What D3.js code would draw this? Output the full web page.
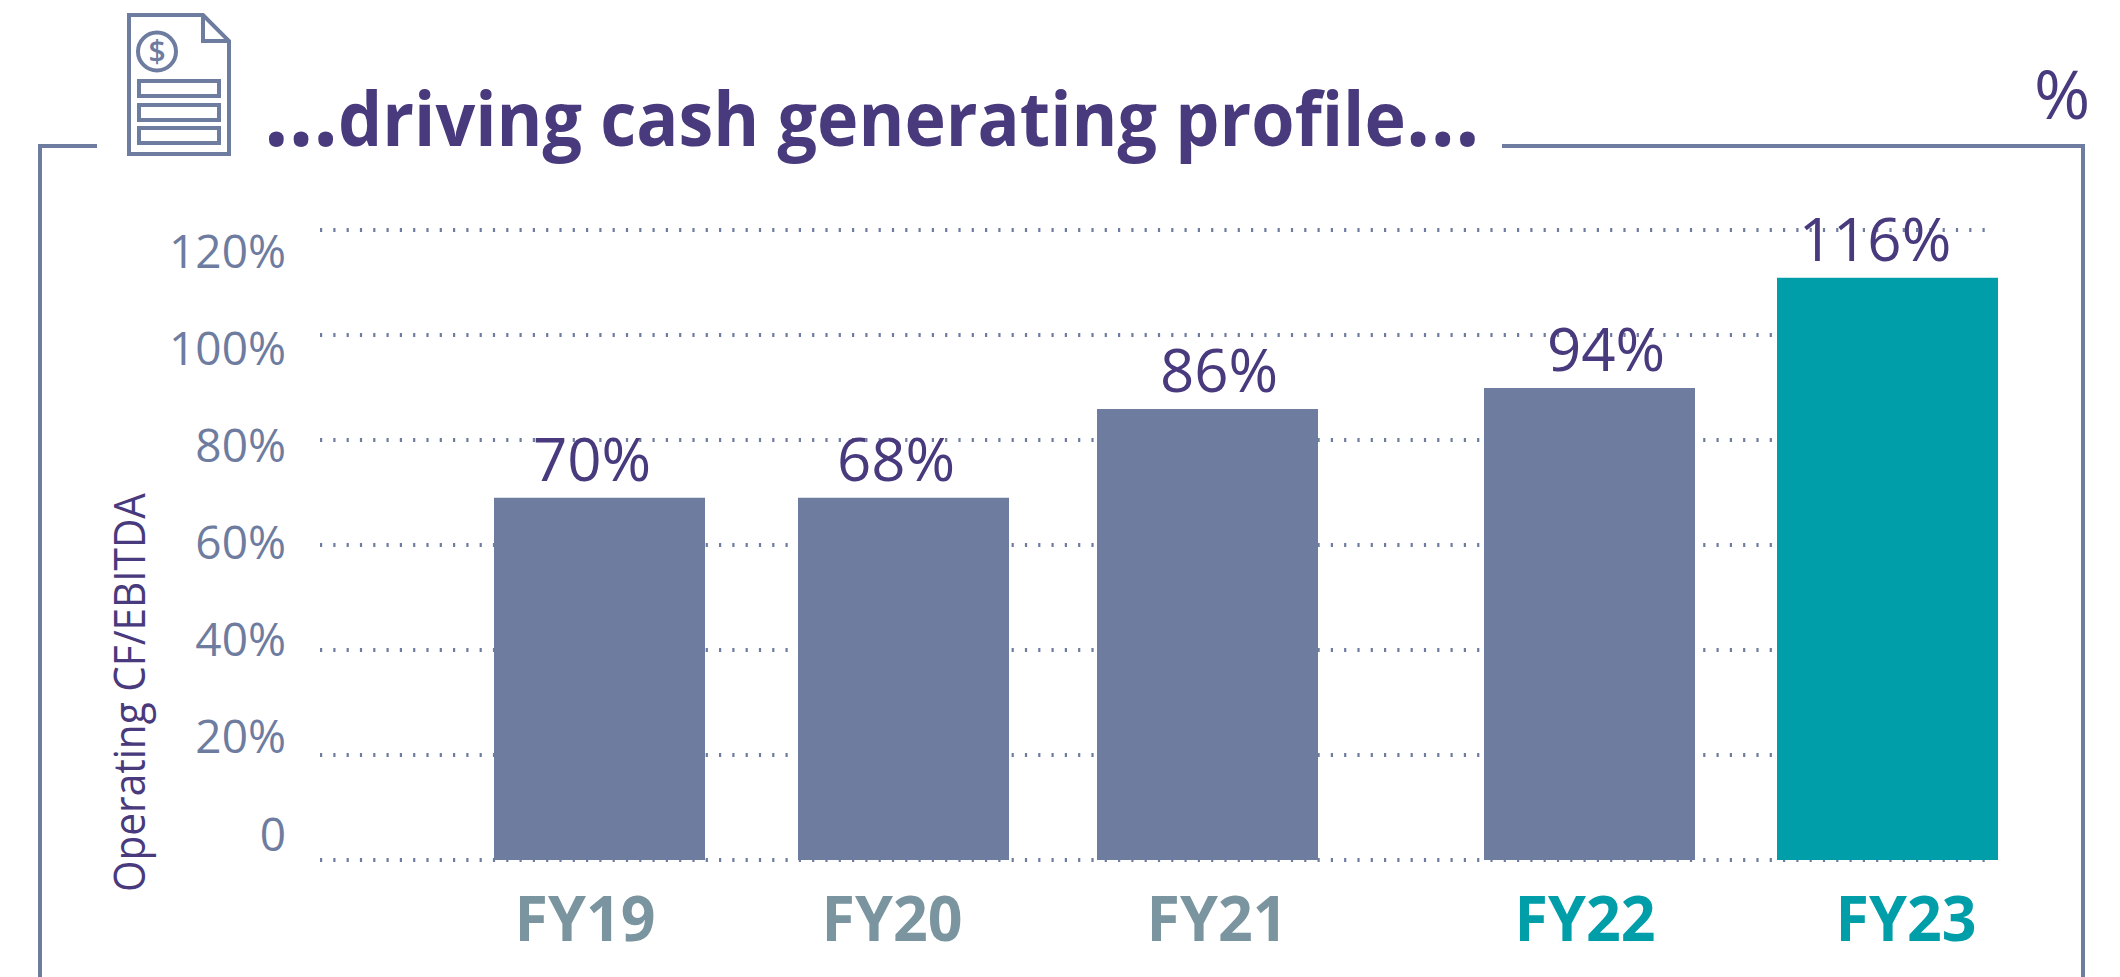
<!DOCTYPE html>
<html><head><meta charset="utf-8">
<script src="https://cdn.jsdelivr.net/npm/d3@7/dist/d3.min.js"></script>
<style>html,body{margin:0;padding:0;background:#fff}svg{display:block}text{font-family:"Open Sans",sans-serif}</style>
</head><body><svg id="c" width="2120" height="977"></svg>
<script>
const categories = ["FY19","FY20","FY21","FY22","FY23"];
const barValues = [69,69,85.9,89.9,110.9];
const valueLabels = ["70%","68%","86%","94%","116%"];
const yTicks = [0,20,40,60,80,100,120];
const yTickLabels = ["0","20%","40%","60%","80%","100%","120%"];

const INK="#483a7d", SLATE="#6e7ca0", TEAL="#009ea9", GREY="#7a959f";
const barColors=[SLATE,SLATE,SLATE,SLATE,TEAL];
const catColors=[GREY,GREY,GREY,TEAL,TEAL];
// layout
const barLeft=[494,798,1097,1484,1777], barRight=[705,1009,1318,1695,1998];
const catCenter=[585,892,1217,1585,1906], valCenter=[592,896,1219,1606,1875];
const catWidth=141;

const svg=d3.select("#c");
const y=d3.scaleLinear().domain([0,120]).range([860,230]);
const yLabel=d3.scaleLinear().domain([0,120]).range([850,267]);
const xL=d3.scaleOrdinal().domain(categories).range(barLeft);
const xR=d3.scaleOrdinal().domain(categories).range(barRight);
const xCat=d3.scaleOrdinal().domain(categories).range(catCenter);
const xVal=d3.scaleOrdinal().domain(categories).range(valCenter);

// frame
svg.append("path").attr("d","M97 146H40V977M1502 146H2083V977").attr("fill","none").attr("stroke",SLATE).attr("stroke-width",4);

// icon
const ic=svg.append("g").attr("fill","none").attr("stroke",SLATE).attr("stroke-width",4);
ic.append("path").attr("d","M129 15H203L229 41V154H129Z");
ic.append("path").attr("d","M203 15V41H229");
ic.append("ellipse").attr("cx",157).attr("cy",51.5).attr("rx",19).attr("ry",19);
[[81,96],[105,120],[128,143]].forEach(r=>ic.append("rect").attr("x",139).attr("y",r[0]).attr("width",80).attr("height",r[1]-r[0]));
svg.append("text").text("$").attr("x",157).attr("y",62).attr("text-anchor","middle").attr("font-size",30).attr("font-weight",600).attr("fill",SLATE);

// grid
const grid=svg.append("g");
grid.selectAll("line").data(yTicks).join("line")
  .attr("x1",320).attr("x2",1993).attr("y1",d=>y(d)).attr("y2",d=>y(d))
  .attr("stroke",SLATE).attr("stroke-width",4).attr("stroke-dasharray","2.2 11.1");

// bars
svg.append("g").selectAll("rect").data(categories).join("rect")
  .attr("x",d=>xL(d)).attr("width",d=>xR(d)-xL(d))
  .attr("y",(d,i)=>y(barValues[i])).attr("height",(d,i)=>y(0)-y(barValues[i]))
  .attr("fill",(d,i)=>barColors[i]);

function fit(sel,len){return sel.attr("textLength",len).attr("lengthAdjust","spacingAndGlyphs");}

// y tick labels through an axis
const ax=svg.append("g").attr("transform","translate(286,0)")
  .call(d3.axisLeft(yLabel).tickValues(yTicks).tickSize(0).tickPadding(0).tickFormat((d,i)=>yTickLabels[i]));
ax.select(".domain").remove();
ax.selectAll("text").attr("dy",0).attr("font-size",46).attr("font-weight",400).attr("fill",SLATE).style("font-family",'"Open Sans",sans-serif');

// y title
fit(svg.append("text").text("Operating CF/EBITDA").attr("transform","translate(145,892) rotate(-90)")
  .attr("font-size",44).attr("fill",INK),399);

// value labels
svg.append("g").selectAll("text").data(categories).join("text")
  .text((d,i)=>valueLabels[i]).attr("x",d=>xVal(d))
  .attr("y",(d,i)=>y(barValues[i])-17).attr("text-anchor","middle")
  .attr("font-size",60).attr("fill",INK);

// category labels
svg.append("g").selectAll("text").data(categories).join("text")
  .text(d=>d).attr("x",d=>xCat(d)).attr("y",941).attr("text-anchor","middle")
  .attr("font-size",62).attr("font-weight",700).attr("fill",(d,i)=>catColors[i])
  .attr("textLength",catWidth).attr("lengthAdjust","spacingAndGlyphs");

// title: one text element, squeezed horizontally to the reference's width
const title=svg.append("text").attr("font-size",76).attr("font-weight",700).attr("fill",INK);
title.append("tspan").attr("font-size",94).text("…");
title.append("tspan").text("driving cash generating profile");
title.append("tspan").attr("font-size",94).text("…");
title.attr("transform","translate(264,146) scale(1,1)");
const tw=title.node().getComputedTextLength();
title.attr("transform",`translate(264,146) scale(${1216/tw},1)`);

svg.append("text").text("%").attr("x",2062).attr("y",119).attr("text-anchor","middle").attr("font-size",68).attr("font-weight",400).attr("fill",INK);
</script></body></html>
